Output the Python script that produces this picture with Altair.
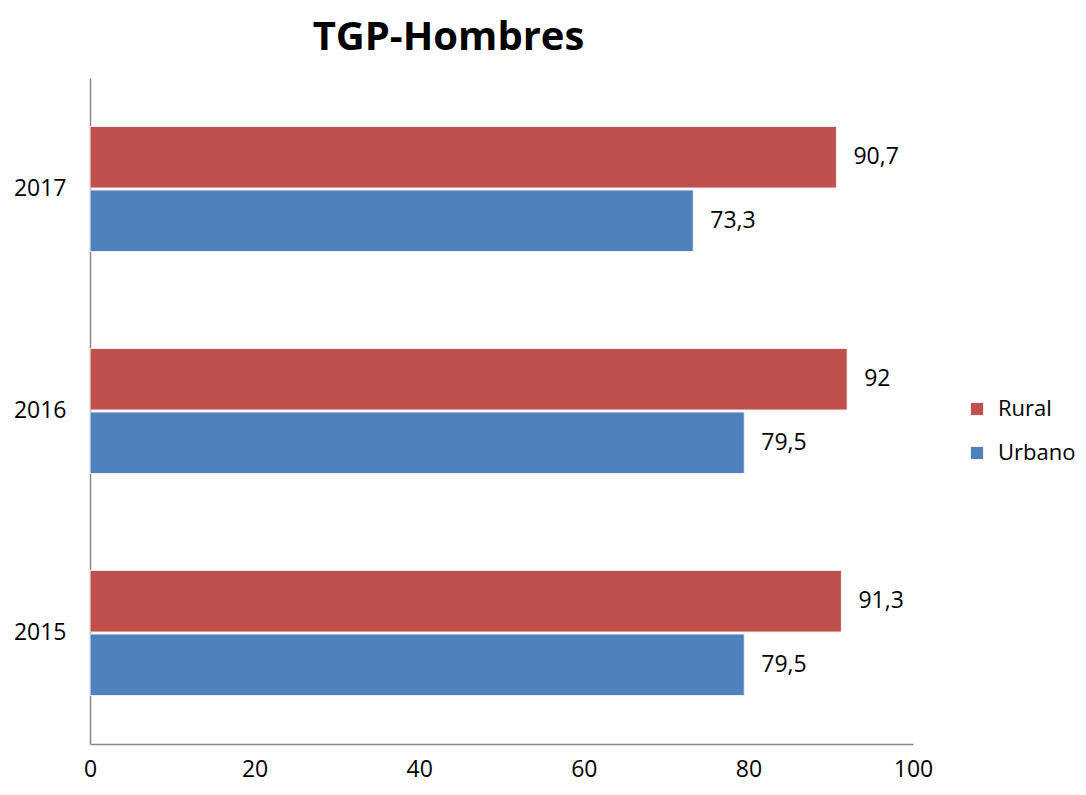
import altair as alt
import pandas as pd

years = ["2017", "2016", "2015"]
rural = [90.7, 92.0, 91.3]
urbano = [73.3, 79.5, 79.5]
series = ["Rural", "Urbano"]
colors = ["#C0504D", "#4F81BD"]

rows = []
for i, y in enumerate(years):
    for s, vals in zip(series, [rural, urbano]):
        v = vals[i]
        txt = (f"{v:g}").replace(".", ",")
        rows.append({"year": y, "series": s, "value": v, "label": txt})
df = pd.DataFrame(rows)

FONT = "Open Sans"

y_enc = alt.Y("year:N", sort=years, title=None,
              scale=alt.Scale(paddingInner=0.436, paddingOuter=0.218),
              axis=alt.Axis(domainColor="#888888", domainWidth=1.5, ticks=False,
                            labelFont=FONT, labelFontSize=23, labelColor="#000000",
                            labelPadding=24))
yoff = alt.YOffset("series:N", sort=series, scale=alt.Scale(paddingInner=0.03))

bars = alt.Chart(df).mark_bar(stroke="#f4f4f4", strokeWidth=1).encode(
    x=alt.X("value:Q", title=None,
            scale=alt.Scale(domain=[0, 100], nice=False),
            axis=alt.Axis(values=[0, 20, 40, 60, 80, 100], grid=False, ticks=False,
                          domainColor="#888888", domainWidth=1.5, labelFlush=False,
                          labelFont=FONT, labelFontSize=23, labelColor="#000000",
                          labelPadding=14)),
    y=y_enc,
    yOffset=yoff,
    color=alt.Color("series:N", sort=series,
                    scale=alt.Scale(domain=series, range=colors),
                    legend=alt.Legend(title=None, orient="none", legendX=876, legendY=320,
                                      symbolType="square", symbolSize=150,
                                      symbolStrokeWidth=0,
                                      labelFont=FONT, labelFontSize=22, labelColor="#000000",
                                      labelOffset=10, rowPadding=22)),
)

labels = alt.Chart(df).mark_text(align="left", baseline="middle", dx=17,
                                 font=FONT, fontSize=23, color="#000000").encode(
    x="value:Q",
    y=alt.Y("year:N", sort=years),
    yOffset=yoff,
    text="label:N",
)

chart = alt.layer(bars, labels).properties(
    width=823, height=666,
    autosize=alt.AutoSizeParams(type="none"),
    padding={"left": 82, "top": 70, "right": 165, "bottom": 42},
    title=alt.TitleParams("TGP-Hombres", font=FONT, fontSize=40, fontWeight="bold",
                          color="#000000", anchor="middle", dx=-53, offset=20),
).configure_view(stroke=None)

chart.save("out.html", embed_options={"renderer": "svg", "actions": False})
